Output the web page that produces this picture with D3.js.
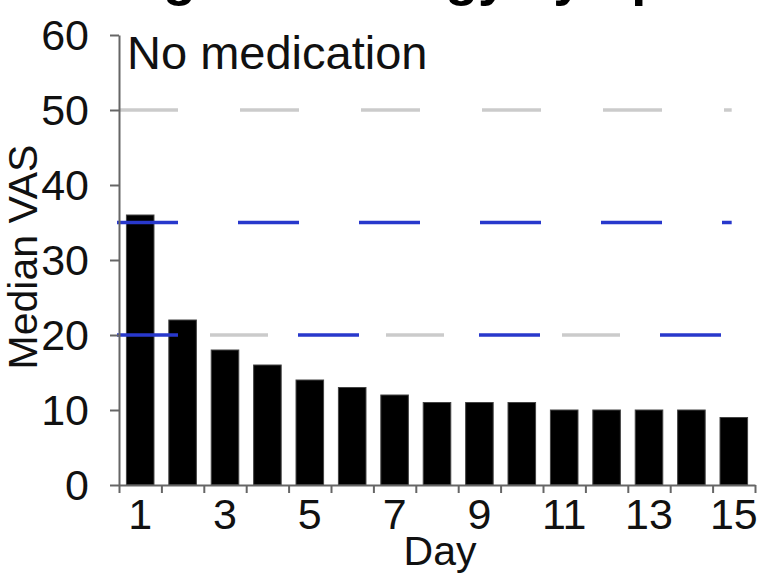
<!DOCTYPE html>
<html>
<head>
<meta charset="utf-8">
<script src="https://cdn.jsdelivr.net/npm/d3@7"></script>
<style>
  body { margin: 0; background: #fff; }
  svg { display: block; font-family: "Liberation Sans", Arial, sans-serif; }
  .axis path, .axis line { stroke: #666; stroke-width: 2; }
  .axis text { fill: #111; }
</style>
</head>
<body>
<div id="chart"></div>
<script>
// chart data
var days = [1, 2, 3, 4, 5, 6, 7, 8, 9, 10, 11, 12, 13, 14, 15];
var medianVAS = [36, 22, 18, 16, 14, 13, 12, 11, 11, 11, 10, 10, 10, 10, 9];
var dayLabels = [1, 3, 5, 7, 9, 11, 13, 15];
var yTicks = [0, 10, 20, 30, 40, 50, 60];
var greyLevels = [50, 20];
var blueLevels = [35, 20];

var svgWidth = 759;
var svgHeight = 576;

var margin = { top: 35, right: 4, bottom: 91, left: 119 };
var width = svgWidth - margin.left - margin.right;
var height = svgHeight - margin.top - margin.bottom;

var svg = d3.select("#chart")
  .append("svg")
  .attr("width", svgWidth)
  .attr("height", svgHeight);

// title, cut off by the top edge as in the source figure
svg.append("text")
  .attr("x", 28)
  .attr("y", -5)
  .attr("font-size", 54)
  .attr("font-weight", "bold")
  .text("Changes in allergy symptoms");

var chartGroup = svg.append("g")
  .attr("transform", `translate(${margin.left}, ${margin.top})`);

// scales
var xBand = d3.scaleBand()
  .domain(days)
  .range([0, width])
  .paddingInner(0.35)
  .paddingOuter(0.175);

var xEdge = d3.scaleLinear()
  .domain([0.5, 15.5])
  .range([0, width]);

var y = d3.scaleLinear()
  .domain([0, 60])
  .range([height, 0]);

// bars
chartGroup.selectAll("rect.bar")
  .data(days)
  .enter()
  .append("rect")
  .attr("class", "bar")
  .attr("x", d => xBand(d))
  .attr("y", (d, i) => y(medianVAS[i]))
  .attr("width", xBand.bandwidth())
  .attr("height", (d, i) => height - y(medianVAS[i]))
  .attr("fill", "#000")
  .attr("stroke", "#444")
  .attr("stroke-width", 1);

// reference lines
var lineEnd = xEdge(14.95);

chartGroup.append("line")
  .attr("x1", 0).attr("x2", lineEnd)
  .attr("y1", y(greyLevels[0])).attr("y2", y(greyLevels[0]))
  .attr("stroke", "#cbcbcb").attr("stroke-width", 3.5)
  .attr("stroke-dasharray", "59 62");

chartGroup.append("line")
  .attr("x1", 0).attr("x2", lineEnd)
  .attr("y1", y(greyLevels[1])).attr("y2", y(greyLevels[1]))
  .attr("stroke", "#cbcbcb").attr("stroke-width", 3.5)
  .attr("stroke-dasharray", "58 118")
  .attr("stroke-dashoffset", 85);

chartGroup.append("line")
  .attr("x1", -2).attr("x2", lineEnd)
  .attr("y1", y(blueLevels[0])).attr("y2", y(blueLevels[0]))
  .attr("stroke", "#2838cc").attr("stroke-width", 3.5)
  .attr("stroke-dasharray", "61 60");

chartGroup.append("line")
  .attr("x1", -2).attr("x2", lineEnd)
  .attr("y1", y(blueLevels[1])).attr("y2", y(blueLevels[1]))
  .attr("stroke", "#2838cc").attr("stroke-width", 3.5)
  .attr("stroke-dasharray", "61 120");

// y axis
var leftAxis = d3.axisLeft(y)
  .tickValues(yTicks)
  .tickSize(9)
  .tickSizeOuter(0)
  .tickPadding(21);

chartGroup.append("g")
  .attr("class", "axis")
  .call(leftAxis)
  .selectAll("text")
  .attr("font-size", 43)
  .attr("dy", "0.34em");

// x axis: ticks on the band edges
var bottomAxis = d3.axisBottom(xEdge)
  .tickValues(d3.range(0.5, 15.6, 1))
  .tickSize(8)
  .tickSizeOuter(0)
  .tickFormat("");

chartGroup.append("g")
  .attr("class", "axis")
  .attr("transform", `translate(0, ${height})`)
  .call(bottomAxis);

// x labels on odd days
var labelAxis = d3.axisBottom(xBand)
  .tickValues(dayLabels)
  .tickSize(0)
  .tickPadding(13);

var xLabels = chartGroup.append("g")
  .attr("class", "axis")
  .attr("transform", `translate(0, ${height})`)
  .call(labelAxis);
xLabels.select(".domain").remove();
xLabels.selectAll("text")
  .attr("font-size", 43)
  .attr("dy", "0.71em");

// axis titles
svg.append("text")
  .attr("x", margin.left + width / 2 + 3)
  .attr("y", 565)
  .attr("text-anchor", "middle")
  .attr("font-size", 41)
  .attr("fill", "#111")
  .text("Day");

svg.append("text")
  .attr("transform", "rotate(-90)")
  .attr("x", -257)
  .attr("y", 37)
  .attr("text-anchor", "middle")
  .attr("font-size", 41)
  .attr("fill", "#111")
  .text("Median VAS");

// panel label
svg.append("text")
  .attr("x", 127)
  .attr("y", 69)
  .attr("font-size", 47)
  .attr("fill", "#111")
  .text("No medication");
</script>
</body>
</html>
